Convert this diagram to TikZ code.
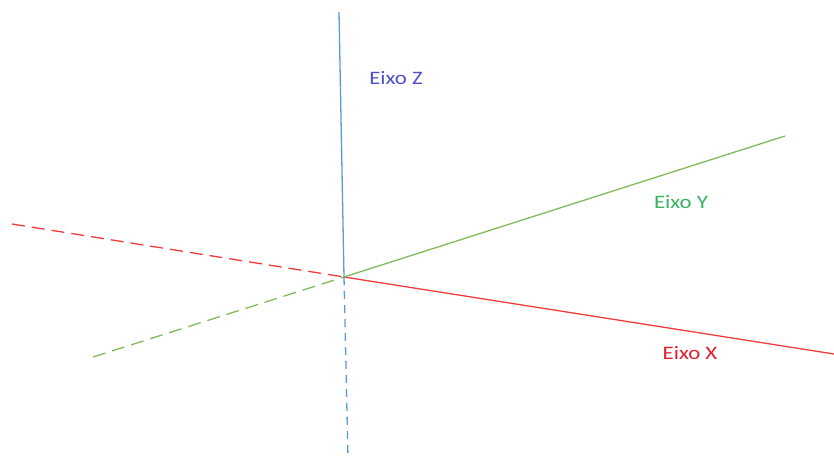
\documentclass[tikz,border=0pt]{standalone}
\usepackage{fontspec}
\setmainfont{Carlito}
\usepackage{xcolor}
\usepackage{tikz}

\definecolor{zline}{RGB}{91,155,213}
\definecolor{yline}{RGB}{130,185,90}
\definecolor{xline}{RGB}{240,60,60}
\definecolor{ztext}{RGB}{80,80,200}
\definecolor{ytext}{RGB}{55,178,95}
\definecolor{xtext}{RGB}{225,30,45}

\newcommand{\axislabel}[1]{\scalebox{1.2}[1]{#1}}

\begin{document}
\begin{tikzpicture}[
    x=1pt, y=-1pt,
    axis/.style={line width=1.3pt},
    back/.style={line width=1.3pt, dash pattern=on 13pt off 7pt},
    label/.style={font=\fontsize{19}{22}\selectfont, inner sep=0pt},
]
\useasboundingbox (0,0) rectangle (834,458);

% Axis end points
\coordinate (o) at (344,277);
\coordinate (ztop) at (339,12);
\coordinate (zbot) at (348,458);
\coordinate (yend) at (785,136);
\coordinate (ybck) at (93,357);
\coordinate (xend) at (834,354);
\coordinate (xbck) at (12,224);

% Axes
\draw[back, xline] (xbck) -- (o);
\draw[back, yline] (ybck) -- (o);
\draw[axis, xline] (o) -- (xend);
\draw[axis, yline] (o) -- (yend);
\draw[axis, zline] (o) -- (ztop);
\draw[axis, zline, dash pattern=on 8pt off 6pt] (o) -- (zbot);

% Labels
\node[label, text=ztext] (lz) at (396,78) {\axislabel{Eixo Z}};
\node[label, text=ytext] (ly) at (681,202) {\axislabel{Eixo Y}};
\node[label, text=xtext] (lx) at (690,353) {\axislabel{Eixo X}};

\end{tikzpicture}
\end{document}
